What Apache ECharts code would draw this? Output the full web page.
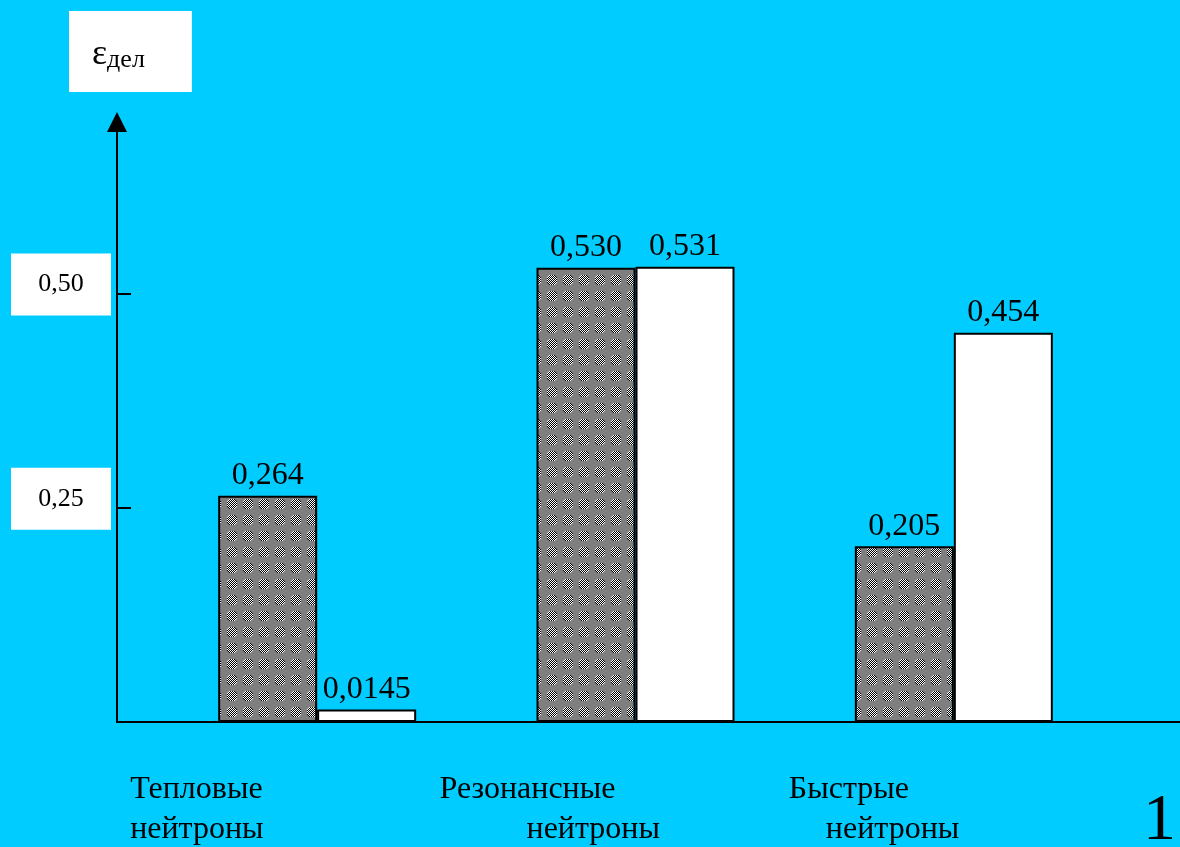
<!DOCTYPE html>
<html>
<head>
<meta charset="utf-8">
<script src="https://cdn.jsdelivr.net/npm/echarts@6/dist/echarts.min.js"></script>
<style>
  html, body { margin: 0; padding: 0; background: #00ccff; }
  #chart { width: 1180px; height: 847px; }
</style>
</head>
<body>
<div id="chart"></div>
<script>
// данные
const categories = ["Тепловые нейтроны", "Резонансные нейтроны", "Быстрые нейтроны"];
const hatchedValues = [0.264, 0.530, 0.205];
const whiteValues = [0.0145, 0.531, 0.454];
const yTickValues = [0.25, 0.50];

// штриховка для тёмных столбцов: серый фон и "точки" из шахматки
function makePattern() {
  const size = 16;
  const c = document.createElement("canvas");
  c.width = size;
  c.height = size;
  const ctx = c.getContext("2d");
  ctx.fillStyle = "#7f7f7f";
  ctx.fillRect(0, 0, size, size);
  const cx = 8, cy = 8, r = 5.5;
  for (let x = 0; x < size; x++) {
    for (let y = 0; y < size; y++) {
      const dx = x + 0.5 - cx, dy = y + 0.5 - cy;
      if (dx * dx + dy * dy <= r * r) {
        ctx.fillStyle = (x + y) % 2 ? "#000000" : "#ffffff";
        ctx.fillRect(x, y, 1, 1);
      }
    }
  }
  return c;
}

function fmt(v) {
  const digits = v < 0.1 ? 4 : 3;
  return v.toFixed(digits).replace(".", ",");
}

const font = "Liberation Serif";
const yMax = 0.7;

let chart = echarts.init(document.getElementById("chart"));
const option = {
  backgroundColor: "#00ccff",
  animation: false,
  textStyle: { fontFamily: font, color: "#000" },
  title: [
    {
      // подпись оси: ε дел
      text: "{e|ε}{s|дел}",
      left: 69,
      top: 7,
      padding: [26, 47, 19, 23],
      backgroundColor: "#fff",
      textStyle: {
        fontWeight: "normal",
        rich: {
          e: { fontSize: 36, fontWeight: "normal", lineHeight: 40, fontFamily: font, color: "#000", verticalAlign: "bottom" },
          s: { fontSize: 26, fontWeight: "normal", lineHeight: 40, fontFamily: font, color: "#000", verticalAlign: "bottom" },
        },
      },
    },
    {
      text: "1",
      right: 4,
      bottom: -8,
      padding: 0,
      textStyle: { fontFamily: font, fontSize: 66, fontWeight: "normal", color: "#000" },
    },
  ],
  grid: [
    { left: 117, right: 0, top: 122, bottom: 125 },
    { left: 158, right: 67, top: 122, bottom: 125 },
  ],
  xAxis: [
    {
      gridIndex: 0,
      type: "value",
      min: 0,
      max: 1,
      axisLine: { show: true, lineStyle: { color: "#000", width: 2 } },
      axisTick: { show: false },
      axisLabel: { show: false },
      splitLine: { show: false },
    },
    {
      gridIndex: 1,
      type: "category",
      data: categories,
      axisLine: { show: false },
      axisTick: { show: false },
      axisLabel: {
        interval: 0,
        hideOverlap: false,
        margin: 48,
        formatter: (value, index) => {
          const parts = value.split(" ");
          return "{c" + index + "a|" + parts[0] + "}\n{c" + index + "b|" + parts[1] + "}";
        },
        rich: {
          c0a: { width: 374, align: "left", fontSize: 32, lineHeight: 40, fontFamily: font, color: "#000" },
          c0b: { width: 374, align: "left", fontSize: 32, lineHeight: 40, fontFamily: font, color: "#000" },
          c1a: { width: 392, align: "left", fontSize: 32, lineHeight: 40, fontFamily: font, color: "#000" },
          c1b: { width: 305, align: "left", padding: [0, 0, 0, 87], fontSize: 32, lineHeight: 40, fontFamily: font, color: "#000" },
          c2a: { width: 330, align: "left", fontSize: 32, lineHeight: 40, fontFamily: font, color: "#000" },
          c2b: { width: 293, align: "left", padding: [0, 0, 0, 37], fontSize: 32, lineHeight: 40, fontFamily: font, color: "#000" },
        },
      },
    },
  ],
  yAxis: [
    {
      gridIndex: 0,
      type: "value",
      min: 0,
      max: yMax,
      interval: 0.25,
      axisLine: {
        show: true,
        symbol: ["none", "triangle"],
        symbolSize: [20, 20],
        lineStyle: { color: "#000", width: 2 },
      },
      axisTick: {
        show: true,
        inside: true,
        length: 14,
        customValues: yTickValues,
        lineStyle: { color: "#000", width: 2 },
      },
      axisLabel: {
        show: true,
        margin: 6,
        customValues: yTickValues,
        formatter: (v) => "{b|" + v.toFixed(2).replace(".", ",") + "}\n{sp| }",
        rich: {
          b: {
            backgroundColor: "#fff",
            width: 100,
            height: 62,
            lineHeight: 62,
            align: "center",
            fontSize: 26,
            fontFamily: font,
            color: "#000",
          },
          sp: { height: 18, lineHeight: 18, fontSize: 10 },
        },
      },
      splitLine: { show: false },
    },
    {
      gridIndex: 1,
      type: "value",
      min: 0,
      max: yMax,
      show: false,
    },
  ],
  series: [
    {
      name: "hatched",
      type: "bar",
      xAxisIndex: 1,
      yAxisIndex: 1,
      data: hatchedValues,
      barWidth: 99,
      barGap: "0%",
      itemStyle: {
        color: { image: makePattern(), repeat: "repeat" },
        borderColor: "#000",
        borderWidth: 2,
      },
      label: {
        show: true,
        position: "top",
        distance: 4,
        formatter: (p) => fmt(p.value),
        fontSize: 32,
        fontFamily: font,
        color: "#000",
      },
    },
    {
      name: "white",
      type: "bar",
      xAxisIndex: 1,
      yAxisIndex: 1,
      data: whiteValues,
      barWidth: 99,
      barGap: "0%",
      itemStyle: { color: "#fff", borderColor: "#000", borderWidth: 2 },
      label: {
        show: true,
        position: "top",
        distance: 4,
        formatter: (p) => fmt(p.value),
        fontSize: 32,
        fontFamily: font,
        color: "#000",
      },
    },
  ],
};
chart.setOption(option);
window.addEventListener("resize", () => {
  chart.resize();
});
</script>
</body>
</html>
